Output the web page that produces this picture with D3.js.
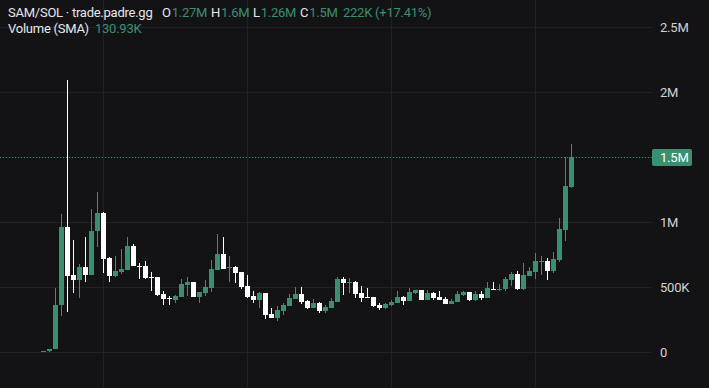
<!DOCTYPE html>
<html>
<head>
<meta charset="utf-8">
<script src="https://cdn.jsdelivr.net/npm/d3@7"></script>
<style>
  html, body { margin: 0; padding: 0; background: #131316; }
  svg { display: block; }
</style>
</head>
<body>
<svg id="chart" width="709" height="388"></svg>
<script>
// candle values in millions
const opens  = [0.002,0.005,0.025,0.36,0.96,0.59,0.555,0.655,0.59,0.93,1.07,0.72,0.585,0.615,0.63,0.815,0.665,0.66,0.58,0.577,
  0.445,0.415,0.40,0.425,0.515,0.538,0.423,0.454,0.492,0.63,0.754,0.65,0.654,0.615,0.508,0.43,0.40,0.454,0.292,0.262,
  0.315,0.354,0.41,0.446,0.39,0.338,0.377,0.315,0.338,0.385,0.562,0.535,0.538,0.454,0.425,0.423,0.362,0.338,0.362,0.377,
  0.423,0.392,0.454,0.477,0.40,0.454,0.423,0.408,0.37,0.385,0.438,0.462,0.40,0.446,0.415,0.485,0.483,0.485,0.554,0.60,
  0.485,0.585,0.615,0.698,0.70,0.623,0.708,0.94,1.27];
const highs  = [0.01,0.025,0.49,1.06,2.09,0.86,0.68,0.885,1.10,1.23,1.08,0.73,0.74,0.79,0.885,0.83,0.685,0.70,0.615,0.58,
  0.47,0.43,0.435,0.56,0.577,0.54,0.465,0.554,0.708,0.908,0.885,0.738,0.66,0.615,0.592,0.47,0.46,0.455,0.338,0.354,
  0.377,0.446,0.50,0.50,0.40,0.408,0.385,0.36,0.415,0.577,0.577,0.57,0.546,0.508,0.49,0.425,0.377,0.377,0.40,0.47,
  0.43,0.492,0.48,0.48,0.477,0.46,0.47,0.423,0.408,0.47,0.47,0.462,0.47,0.47,0.538,0.538,0.523,0.577,0.615,0.623,
  0.685,0.654,0.762,0.738,0.723,0.77,1.03,1.50,1.60];
const lows   = [0.0,0.0,0.02,0.28,0.31,0.455,0.415,0.54,0.59,0.81,0.61,0.54,0.577,0.60,0.63,0.66,0.56,0.56,0.47,0.43,
  0.36,0.36,0.377,0.42,0.43,0.42,0.377,0.43,0.46,0.63,0.635,0.538,0.53,0.485,0.415,0.377,0.338,0.254,0.26,0.238,
  0.285,0.35,0.405,0.37,0.33,0.335,0.30,0.30,0.335,0.385,0.438,0.454,0.415,0.385,0.42,0.346,0.323,0.33,0.354,0.375,
  0.362,0.39,0.445,0.40,0.40,0.40,0.40,0.37,0.37,0.385,0.43,0.392,0.392,0.40,0.415,0.478,0.47,0.47,0.508,0.477,
  0.477,0.585,0.562,0.592,0.554,0.608,0.69,0.854,1.26];
const closes = [0.01,0.025,0.36,0.96,0.585,0.555,0.655,0.59,0.93,1.07,0.715,0.585,0.623,0.64,0.815,0.66,0.655,0.57,0.575,0.438,
  0.41,0.405,0.43,0.523,0.54,0.423,0.46,0.50,0.638,0.754,0.638,0.656,0.608,0.50,0.423,0.40,0.454,0.285,0.262,0.323,
  0.36,0.415,0.446,0.385,0.338,0.377,0.315,0.346,0.392,0.562,0.53,0.54,0.446,0.415,0.42,0.354,0.338,0.37,0.385,0.423,
  0.392,0.46,0.477,0.40,0.454,0.415,0.40,0.37,0.392,0.446,0.462,0.40,0.446,0.415,0.492,0.48,0.487,0.562,0.60,0.485,
  0.592,0.623,0.70,0.702,0.623,0.715,0.946,1.277,1.50];

const priceTicks = [0, 0.5, 1, 1.5, 2, 2.5];
const priceLabels = ["0", "500K", "1M", "1.5M", "2M", "2.5M"];
const timeGridIdx = [10, 34, 58, 82];
const lastPrice = 1.5;

// legend line: [letter, value]
const ohlcLegend = [["O", "1.27M"], ["H", "1.6M"], ["L", "1.26M"], ["C", "1.5M"]];

const green = "#3a8f71";
const up = "#3a8f71";
const down = "#ffffff";
const font = "Roboto, 'Noto Sans', sans-serif";

function draw_chart(){
  let svg = d3.select("#chart");
  let n = opens.length;

  let x = d3.scaleBand().domain(d3.range(n)).range([40, 40 + n * 6]).padding(0);
  let y = d3.scaleLinear().domain([0, 2.5]).range([352, 27]);

  svg.append("rect")
    .attr("width", 709).attr("height", 388)
    .attr("fill", "#131316");

  // grid
  svg.selectAll("line.hgrid")
  .data(priceTicks).enter()
    .append("line")
      .attr("class", "hgrid")
      .attr("x1", 0).attr("x2", 652)
      .attr("y1", d => Math.round(y(d)) + 0.5)
      .attr("y2", d => Math.round(y(d)) + 0.5)
      .attr("stroke", "#222226");

  svg.selectAll("line.vgrid")
  .data(timeGridIdx).enter()
    .append("line")
      .attr("class", "vgrid")
      .attr("x1", d => x(d) + 3.5).attr("x2", d => x(d) + 3.5)
      .attr("y1", 0).attr("y2", 388)
      .attr("stroke", "#222226");

  // last price dotted line
  svg.append("line")
    .attr("x1", 0).attr("x2", 652)
    .attr("y1", y(lastPrice) + 0.5).attr("y2", y(lastPrice) + 0.5)
    .attr("stroke", green)
    .attr("stroke-dasharray", "1,2");

  let candles = d3.range(n).map(i => ({i: i, o: opens[i], h: highs[i], l: lows[i], c: closes[i]}));

  svg.selectAll("rect.wick")
  .data(candles).enter()
    .append("rect")
      .attr("class", "wick")
      .attr("x", d => x(d.i) + 3)
      .attr("width", 1)
      .attr("y", d => Math.round(y(d.h)))
      .attr("height", d => Math.max(1, Math.round(y(d.l)) - Math.round(y(d.h))))
      .attr("fill", d => d.c >= d.o ? up : down);

  svg.selectAll("rect.body")
  .data(candles).enter()
    .append("rect")
      .attr("class", "body")
      .attr("x", d => x(d.i) + 1)
      .attr("width", x.bandwidth() - 1)
      .attr("y", d => Math.round(y(Math.max(d.o, d.c))))
      .attr("height", d => Math.max(1, Math.round(y(Math.min(d.o, d.c))) - Math.round(y(Math.max(d.o, d.c)))))
      .attr("fill", d => d.c >= d.o ? up : down);

  // price axis
  let axis = d3.axisRight(y)
    .tickValues(priceTicks)
    .tickFormat((d, i) => priceLabels[i])
    .tickSize(0)
    .tickPadding(0);

  let ax = svg.append("g")
    .attr("transform", "translate(660,0)")
    .call(axis);
  ax.select(".domain").remove();
  ax.selectAll("text")
    .attr("fill", "#d1d1d6")
    .style("font-family", font)
    .style("font-size", "13px")
    .style("letter-spacing", "-0.2px");
  ax.selectAll(".tick")
    .filter(d => d === lastPrice)
    .remove();

  // last price label
  svg.append("rect")
    .attr("x", 652).attr("y", y(lastPrice) - 8)
    .attr("width", 40).attr("height", 17)
    .attr("rx", 2)
    .attr("fill", green);
  svg.append("text")
    .attr("x", 660).attr("y", y(lastPrice) + 1)
    .attr("dy", "0.32em")
    .attr("fill", "#ffffff")
    .style("font-family", font)
    .style("font-size", "13px")
    .style("letter-spacing", "-0.2px")
    .text("1.5M");

  // legend
  let legendX = [162, 211, 253, 300];
  let t1 = svg.append("text")
    .attr("x", 8).attr("y", 17)
    .style("font-family", font).style("font-size", "13px")
    .style("letter-spacing", "-0.25px")
    .attr("fill", "#e6e6ea");
  t1.append("tspan").text("SAM/SOL · trade.padre.gg");
  ohlcLegend.forEach(function(p, i){
    t1.append("tspan").attr("x", legendX[i]).text(p[0]);
    t1.append("tspan").attr("dx", 1).attr("fill", green).text(p[1]);
  });
  t1.append("tspan").attr("x", 343).attr("fill", green).text("222K (+17.41%)");

  let t2 = svg.append("text")
    .attr("x", 8).attr("y", 33)
    .style("font-family", font).style("font-size", "13px")
    .style("letter-spacing", "-0.25px")
    .attr("fill", "#e6e6ea");
  t2.append("tspan").text("Volume (SMA)");
  t2.append("tspan").attr("x", 95).attr("fill", green).text("130.93K");
}

draw_chart();
</script>
</body>
</html>
